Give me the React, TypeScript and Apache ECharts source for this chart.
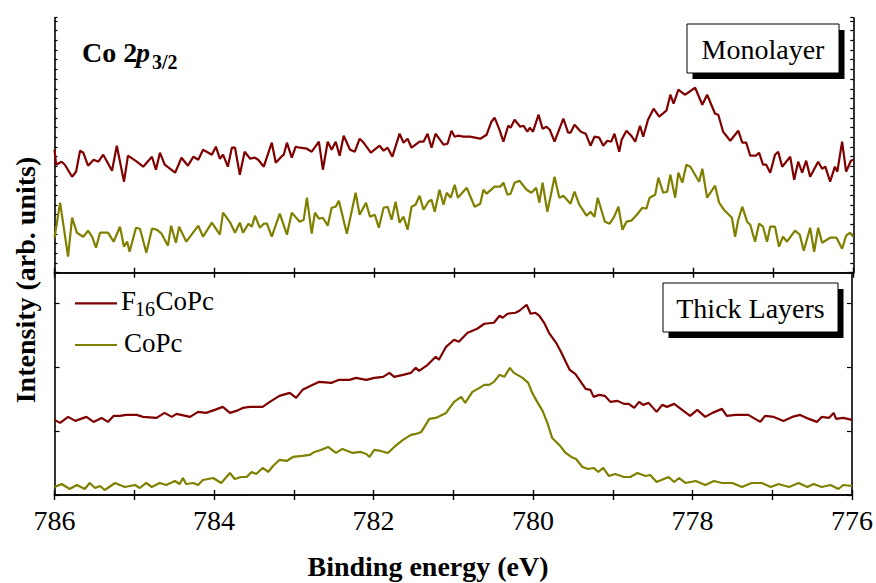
import React, { useEffect, useRef } from "react";
import * as echarts from "echarts";

// Binding energy (eV), intensity (arb. units)
const monoF16: number[][] = [
  [786.0, 123], [785.98, 108], [785.91, 111], [785.87, 108], [785.78, 96], [785.73, 101], [785.68, 122], [785.64, 120], [785.58, 107], [785.51, 113], [785.45, 111], [785.39, 118], [785.28, 102], [785.22, 127], [785.13, 91], [785.08, 117], [784.97, 111], [784.89, 106], [784.78, 116], [784.73, 103], [784.68, 120], [784.62, 108], [784.49, 100], [784.41, 115], [784.33, 107], [784.26, 116], [784.2, 113], [784.14, 123], [784.03, 118], [783.98, 126], [783.93, 114], [783.89, 118], [783.83, 106], [783.78, 125], [783.74, 125], [783.68, 98], [783.62, 121], [783.55, 114], [783.49, 115], [783.45, 113], [783.38, 106], [783.28, 130], [783.23, 110], [783.16, 116], [783.13, 118], [783.09, 130], [783.03, 115], [782.98, 126], [782.93, 125], [782.84, 124], [782.78, 121], [782.69, 131], [782.64, 103], [782.58, 131], [782.53, 123], [782.48, 131], [782.43, 117], [782.38, 137], [782.3, 123], [782.24, 121], [782.18, 134], [782.14, 131], [782.04, 120], [781.93, 127], [781.88, 122], [781.83, 125], [781.77, 116], [781.68, 139], [781.63, 130], [781.58, 134], [781.53, 125], [781.43, 131], [781.38, 131], [781.33, 139], [781.28, 125], [781.23, 139], [781.13, 128], [781.08, 129], [781.03, 142], [780.99, 136], [780.95, 137], [780.88, 136], [780.8, 136], [780.67, 134], [780.59, 138], [780.53, 151], [780.49, 155], [780.43, 143], [780.38, 131], [780.32, 147], [780.29, 145], [780.24, 153], [780.17, 146], [780.13, 147], [780.08, 141], [780.05, 145], [780.01, 141], [779.94, 158], [779.89, 144], [779.84, 146], [779.8, 143], [779.74, 131], [779.63, 154], [779.57, 140], [779.54, 140], [779.49, 148], [779.41, 141], [779.35, 139], [779.29, 127], [779.24, 136], [779.18, 135], [779.13, 127], [779.08, 132], [779.03, 131], [778.99, 139], [778.93, 121], [778.9, 133], [778.84, 142], [778.78, 137], [778.73, 131], [778.67, 147], [778.63, 136], [778.57, 153], [778.5, 164], [778.43, 156], [778.34, 162], [778.29, 178], [778.25, 169], [778.19, 183], [778.11, 178], [778.05, 181], [777.98, 185], [777.89, 168], [777.83, 178], [777.73, 159], [777.69, 158], [777.63, 141], [777.54, 132], [777.44, 142], [777.39, 130], [777.34, 130], [777.29, 117], [777.22, 117], [777.18, 120], [777.13, 108], [777.09, 108], [777.04, 100], [776.98, 118], [776.94, 121], [776.89, 106], [776.79, 116], [776.74, 93], [776.69, 111], [776.64, 100], [776.59, 112], [776.54, 96], [776.44, 111], [776.39, 104], [776.35, 106], [776.29, 91], [776.23, 106], [776.2, 101], [776.14, 131], [776.09, 101], [776.03, 112], [776.0, 113],
];

const monoCoPc: number[][] = [
  [786.0, 35], [785.93, 70], [785.83, 16], [785.78, 55], [785.72, 40], [785.64, 36], [785.58, 42], [785.53, 36], [785.48, 25], [785.43, 40], [785.33, 40], [785.26, 31], [785.18, 46], [785.13, 26], [785.09, 31], [785.06, 21], [784.98, 45], [784.93, 44], [784.85, 20], [784.78, 44], [784.72, 43], [784.66, 39], [784.58, 27], [784.54, 47], [784.48, 30], [784.44, 46], [784.35, 31], [784.2, 47], [784.14, 36], [784.03, 50], [783.93, 38], [783.89, 60], [783.8, 50], [783.74, 40], [783.68, 50], [783.64, 40], [783.57, 49], [783.53, 46], [783.49, 57], [783.43, 45], [783.38, 49], [783.34, 49], [783.28, 36], [783.18, 59], [783.09, 38], [783.03, 60], [782.93, 51], [782.88, 53], [782.84, 75], [782.78, 39], [782.74, 60], [782.69, 54], [782.64, 55], [782.58, 47], [782.53, 65], [782.48, 66], [782.44, 72], [782.34, 39], [782.23, 80], [782.18, 58], [782.1, 70], [782.05, 56], [781.99, 58], [781.94, 45], [781.88, 65], [781.83, 66], [781.78, 53], [781.73, 71], [781.68, 50], [781.63, 56], [781.58, 43], [781.53, 66], [781.48, 68], [781.43, 77], [781.38, 63], [781.32, 71], [781.28, 73], [781.24, 61], [781.18, 83], [781.13, 68], [781.09, 80], [781.04, 75], [780.99, 88], [780.95, 75], [780.84, 85], [780.74, 66], [780.67, 69], [780.63, 83], [780.59, 79], [780.49, 86], [780.42, 86], [780.38, 90], [780.33, 78], [780.29, 79], [780.24, 90], [780.18, 92], [780.09, 83], [780.03, 80], [779.97, 85], [779.93, 70], [779.89, 90], [779.83, 61], [779.78, 80], [779.74, 96], [779.68, 75], [779.63, 77], [779.54, 69], [779.49, 81], [779.43, 68], [779.34, 57], [779.29, 61], [779.24, 56], [779.2, 75], [779.11, 51], [779.05, 49], [779.0, 55], [778.94, 66], [778.89, 43], [778.84, 51], [778.78, 52], [778.71, 58], [778.64, 65], [778.59, 64], [778.55, 75], [778.48, 78], [778.44, 95], [778.38, 80], [778.33, 81], [778.29, 98], [778.23, 75], [778.19, 100], [778.14, 90], [778.09, 108], [778.04, 106], [777.93, 91], [777.89, 104], [777.83, 75], [777.73, 87], [777.68, 70], [777.62, 63], [777.52, 55], [777.48, 36], [777.44, 53], [777.39, 66], [777.33, 51], [777.29, 48], [777.23, 31], [777.18, 49], [777.13, 46], [777.08, 31], [777.04, 46], [776.98, 46], [776.93, 26], [776.88, 36], [776.83, 31], [776.73, 42], [776.67, 38], [776.62, 22], [776.54, 45], [776.49, 21], [776.44, 45], [776.39, 30], [776.29, 35], [776.21, 35], [776.14, 24], [776.09, 37], [776.04, 40], [776.0, 36],
];

const thickF16: number[][] = [
  [786.0, 75], [785.93, 72], [785.83, 78], [785.74, 74], [785.6, 78], [785.51, 73], [785.41, 77], [785.33, 73], [785.26, 79], [785.18, 79], [785.1, 80], [784.97, 80], [784.89, 78], [784.72, 77], [784.62, 82], [784.53, 78], [784.47, 81], [784.3, 78], [784.2, 83], [784.1, 82], [783.99, 85], [783.89, 88], [783.8, 82], [783.72, 84], [783.64, 87], [783.55, 88], [783.39, 88], [783.3, 93], [783.18, 99], [783.05, 102], [782.97, 97], [782.89, 105], [782.76, 110], [782.68, 113], [782.53, 112], [782.43, 115], [782.3, 115], [782.22, 117], [782.09, 115], [781.99, 117], [781.88, 118], [781.8, 122], [781.74, 118], [781.63, 120], [781.53, 122], [781.47, 127], [781.43, 124], [781.32, 130], [781.22, 138], [781.18, 135], [781.09, 148], [780.99, 155], [780.93, 153], [780.82, 162], [780.7, 166], [780.61, 171], [780.49, 172], [780.42, 179], [780.38, 177], [780.32, 181], [780.22, 182], [780.17, 184], [780.08, 190], [780.03, 181], [779.97, 182], [779.92, 179], [779.86, 172], [779.8, 162], [779.71, 152], [779.65, 143], [779.59, 133], [779.54, 125], [779.47, 121], [779.4, 113], [779.34, 106], [779.28, 105], [779.24, 98], [779.17, 100], [779.1, 99], [779.03, 93], [778.94, 94], [778.86, 91], [778.8, 91], [778.73, 87], [778.67, 93], [778.62, 90], [778.55, 92], [778.45, 83], [778.38, 90], [778.32, 88], [778.23, 91], [778.13, 85], [778.03, 79], [777.94, 85], [777.84, 78], [777.75, 82], [777.63, 86], [777.57, 79], [777.46, 80], [777.3, 80], [777.15, 73], [777.09, 79], [776.98, 78], [776.86, 74], [776.75, 78], [776.65, 80], [776.54, 76], [776.44, 73], [776.38, 78], [776.29, 77], [776.23, 82], [776.2, 76], [776.11, 77], [776.0, 75],
];

const thickCoPc: number[][] = [
  [786.0, 8], [785.91, 11], [785.81, 6], [785.72, 10], [785.62, 6], [785.56, 12], [785.49, 7], [785.43, 9], [785.37, 5], [785.24, 12], [785.12, 8], [784.99, 10], [784.93, 7], [784.85, 12], [784.78, 8], [784.68, 12], [784.6, 10], [784.49, 14], [784.43, 11], [784.39, 17], [784.35, 11], [784.26, 12], [784.2, 10], [784.14, 15], [784.01, 17], [783.91, 12], [783.8, 22], [783.74, 16], [783.66, 18], [783.59, 18], [783.53, 23], [783.47, 21], [783.39, 27], [783.32, 23], [783.26, 29], [783.18, 35], [783.09, 34], [783.01, 38], [782.89, 39], [782.8, 40], [782.74, 43], [782.66, 45], [782.57, 48], [782.47, 42], [782.39, 46], [782.26, 42], [782.16, 43], [782.09, 41], [782.05, 38], [781.99, 45], [781.91, 44], [781.82, 42], [781.74, 48], [781.63, 55], [781.53, 60], [781.47, 61], [781.4, 63], [781.3, 76], [781.22, 77], [781.09, 82], [780.99, 93], [780.9, 98], [780.85, 92], [780.76, 103], [780.67, 107], [780.61, 110], [780.55, 110], [780.49, 113], [780.42, 120], [780.36, 118], [780.29, 127], [780.24, 122], [780.13, 117], [780.06, 112], [780.01, 102], [779.94, 92], [779.88, 84], [779.82, 72], [779.76, 57], [779.67, 50], [779.59, 42], [779.52, 38], [779.46, 36], [779.38, 28], [779.31, 26], [779.24, 27], [779.18, 23], [779.12, 27], [779.05, 19], [778.97, 21], [778.86, 18], [778.78, 18], [778.69, 22], [778.59, 19], [778.53, 20], [778.45, 13], [778.3, 18], [778.23, 13], [778.17, 17], [778.09, 12], [777.96, 14], [777.84, 10], [777.73, 14], [777.63, 12], [777.5, 12], [777.38, 8], [777.26, 12], [777.13, 12], [777.02, 8], [776.92, 11], [776.79, 8], [776.67, 12], [776.56, 8], [776.48, 11], [776.38, 8], [776.27, 10], [776.17, 6], [776.11, 10], [776.0, 9],
];

const energyRange = [776, 786];
const energyLabels = [786, 784, 782, 780, 778, 776];
const seriesNames = ["F16CoPc", "CoPc"];
const panelNames = ["Monolayer", "Thick Layers"];
const topRange = [0, 255];
const bottomRange = [0, 222];

const RED = "#800000";
const OLIVE = "#808000";
const FONT = '"Liberation Serif", "Times New Roman", serif';

export default function App() {
  const ref = useRef<HTMLDivElement>(null);

  useEffect(() => {
    if (!ref.current) return;
    const chart = echarts.init(ref.current, null, { renderer: "svg" });

    const grids = [
      { left: 54.5, top: 17.7, width: 798.8, height: 255 },
      { left: 54.5, top: 272.7, width: 798.8, height: 222.3 },
    ];

    const axisLine = { show: true, lineStyle: { color: "#000", width: 1.6 } };

    const mkX = (grid: number, position: string, labels: boolean) => ({
      type: "value",
      gridIndex: grid,
      position,
      min: energyRange[0],
      max: energyRange[1],
      interval: 1,
      inverse: true,
      axisLine,
      axisTick: { show: true, inside: true, length: 5, lineStyle: { color: "#000", width: 1.4 } },
      axisLabel: labels
        ? {
            show: true,
            margin: 11,
            fontSize: 28,
            fontFamily: FONT,
            color: "#000",
            formatter: (v: number) => (energyLabels.includes(Math.round(v)) ? String(Math.round(v)) : ""),
          }
        : { show: false },
      splitLine: { show: false },
    });

    const mkY = (grid: number, position: string, range: number[], interval: number, tickLen: number) => ({
      type: "value",
      gridIndex: grid,
      position,
      min: range[0],
      max: range[1],
      interval,
      axisLine,
      axisTick: { show: true, inside: true, length: tickLen, lineStyle: { color: "#000", width: 1.2 } },
      axisLabel: { show: false },
      splitLine: { show: false },
    });

    const mkLine = (name: string, data: number[][], color: string, axis: number) => ({
      type: "line",
      name,
      data,
      xAxisIndex: axis,
      yAxisIndex: axis,
      showSymbol: false,
      symbol: "none",
      clip: true,
      silent: true,
      lineStyle: { color, width: 2.2 },
      itemStyle: { color },
    });

    const textStyle = (text: string, font: string) => ({
      text,
      font,
      fill: "#000",
      align: "left",
      verticalAlign: "middle",
    });

    const box = (x: number, y: number, w: number, h: number, label: string) => [
      { type: "rect", shape: { x: x + 5.5, y: y + 6, width: w, height: h }, style: { fill: "#000" }, z: 100 },
      { type: "rect", shape: { x, y, width: w, height: h }, style: { fill: "#fff", stroke: "#000", lineWidth: 1 }, z: 101 },
      {
        type: "text",
        x: x + w / 2,
        y: y + h / 2 + 1,
        z: 102,
        style: { text: label, font: `28px ${FONT}`, fill: "#000", align: "center", verticalAlign: "middle" },
      },
    ];

    chart.setOption({
      animation: false,
      backgroundColor: "#fff",
      grid: grids,
      xAxis: [mkX(0, "bottom", false), mkX(0, "top", false), mkX(1, "bottom", true), mkX(1, "top", false)],
      yAxis: [
        mkY(0, "left", topRange, 9.68, 3),
        mkY(0, "right", topRange, 9.68, 3),
        mkY(1, "left", bottomRange, 63.7, 5),
        mkY(1, "right", bottomRange, 63.7, 5),
      ],
      series: [
        mkLine(seriesNames[0], monoF16, RED, 0),
        mkLine(seriesNames[1], monoCoPc, OLIVE, 0),
        { ...mkLine(seriesNames[0], thickF16, RED, 2), xAxisIndex: 2, yAxisIndex: 2 },
        { ...mkLine(seriesNames[1], thickCoPc, OLIVE, 2), xAxisIndex: 2, yAxisIndex: 2 },
      ],
      graphic: [
        // axis titles
        {
          type: "text",
          x: 25,
          y: 280,
          rotation: Math.PI / 2,
          style: { text: "Intensity (arb. units)", font: `bold 28px ${FONT}`, fill: "#000", align: "center", verticalAlign: "middle" },
        },
        {
          type: "text",
          x: 428,
          y: 566,
          style: { text: "Binding energy (eV)", font: `bold 28px ${FONT}`, fill: "#000", align: "center", verticalAlign: "middle" },
        },
        // Co 2p3/2
        { type: "text", x: 82, y: 52.5, style: textStyle("Co 2", `bold 28px ${FONT}`) },
        { type: "text", x: 136, y: 52.5, style: textStyle("p", `italic bold 28px ${FONT}`) },
        { type: "text", x: 152, y: 61.5, style: textStyle("3/2", `bold 20px ${FONT}`) },
        // panel boxes
        ...box(687, 24, 152, 49, panelNames[0]),
        ...box(663, 283, 175, 49, panelNames[1]),
        // legend
        { type: "line", shape: { x1: 75, y1: 303.3, x2: 117, y2: 303.3 }, style: { stroke: RED, lineWidth: 2.2 } },
        { type: "line", shape: { x1: 75, y1: 345, x2: 117, y2: 345 }, style: { stroke: OLIVE, lineWidth: 2.2 } },
        { type: "text", x: 121, y: 301, style: textStyle("F", `27px ${FONT}`) },
        { type: "text", x: 135, y: 308.5, style: textStyle("16", `20px ${FONT}`) },
        { type: "text", x: 155.5, y: 301, style: textStyle("CoPc", `27px ${FONT}`) },
        { type: "text", x: 124, y: 342.5, style: textStyle("CoPc", `27px ${FONT}`) },
      ],
    });

    return () => chart.dispose();
  }, []);

  return <div ref={ref} style={{ position: "absolute", left: 0, top: 0, width: 876, height: 583 }} />;
}
